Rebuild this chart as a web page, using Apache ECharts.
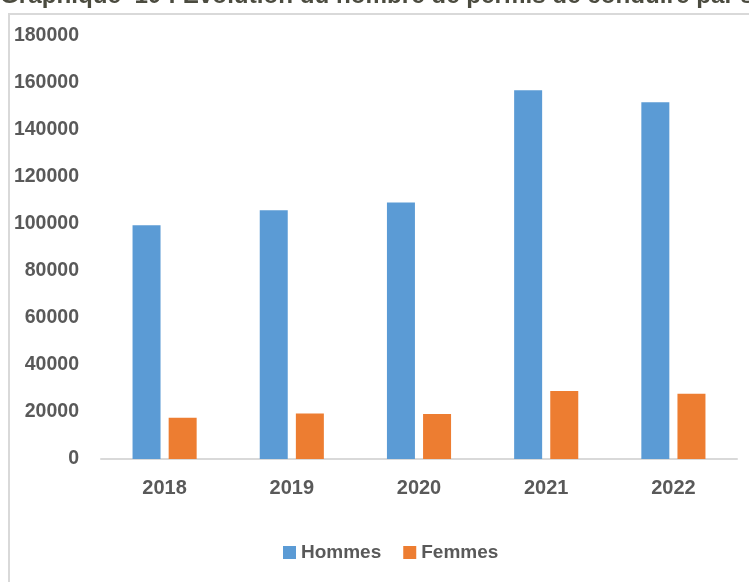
<!DOCTYPE html>
<html>
<head>
<meta charset="utf-8">
<script src="https://cdn.jsdelivr.net/npm/echarts@6/dist/echarts.min.js"></script>
<style>
    html, body { margin: 0; padding: 0; background: #fff; }
    #main { width: 749px; height: 582px; }
</style>
</head>
<body>
<div id="main"></div>
<script>
var years = ["2018", "2019", "2020", "2021", "2022"];
var hommes = [99500, 105800, 109200, 156900, 151800];
var femmes = [17600, 19400, 19200, 28900, 27800];
var yTicks = [0, 20000, 40000, 60000, 80000, 100000, 120000, 140000, 160000, 180000];

// 基于准备好的dom，初始化echarts实例
var myChart = echarts.init(document.getElementById('main'));

var option = {
    animation: false,
    backgroundColor: '#fff',
    textStyle: {
        fontFamily: 'Liberation Sans, Arial, sans-serif'
    },
    graphic: [{
        type: 'rect',
        shape: { x: 9, y: 14, width: 760, height: 600 },
        style: { fill: 'none', stroke: '#d9d9d9', lineWidth: 2 }
    }, {
        type: 'text',
        left: 0,
        top: -16,
        style: {
            text: 'Graphique  10 : Evolution du nombre de permis de conduire par sexe',
            fill: '#4b4b3f',
            font: 'bold 24.2px "Liberation Sans", Arial, sans-serif'
        }
    }],
    legend: {
        bottom: 15,
        left: 278,
        itemWidth: 13,
        itemHeight: 13,
        itemGap: 22,
        icon: 'rect',
        textStyle: {
            color: '#595959',
            fontSize: 19,
            fontWeight: 'bold'
        },
        data: ['Hommes', 'Femmes']
    },
    grid: {
        left: 101,
        right: 12,
        top: 36,
        bottom: 123,
        containLabel: false
    },
    xAxis: {
        type: 'category',
        data: years,
        axisLine: {
            lineStyle: { color: '#d9d9d9', width: 2 }
        },
        axisTick: { show: false },
        axisLabel: {
            color: '#595959',
            fontSize: 20,
            fontWeight: 'bold',
            margin: 19
        }
    },
    yAxis: {
        type: 'value',
        min: yTicks[0],
        max: yTicks[yTicks.length - 1],
        interval: 20000,
        axisLine: { show: false },
        axisTick: { show: false },
        splitLine: { show: false },
        axisLabel: {
            color: '#595959',
            fontSize: 19.5,
            fontWeight: 'bold',
            margin: 22,
            formatter: function (v) { return String(v); }
        }
    },
    series: [{
        name: 'Hommes',
        type: 'bar',
        barWidth: 28,
        barGap: '29%',
        itemStyle: { color: '#5b9bd5' },
        data: hommes
    }, {
        name: 'Femmes',
        type: 'bar',
        barWidth: 28,
        itemStyle: { color: '#ed7d31' },
        data: femmes
    }]
};

// 使用刚指定的配置项和数据显示图表。
myChart.setOption(option);
</script>
</body>
</html>
